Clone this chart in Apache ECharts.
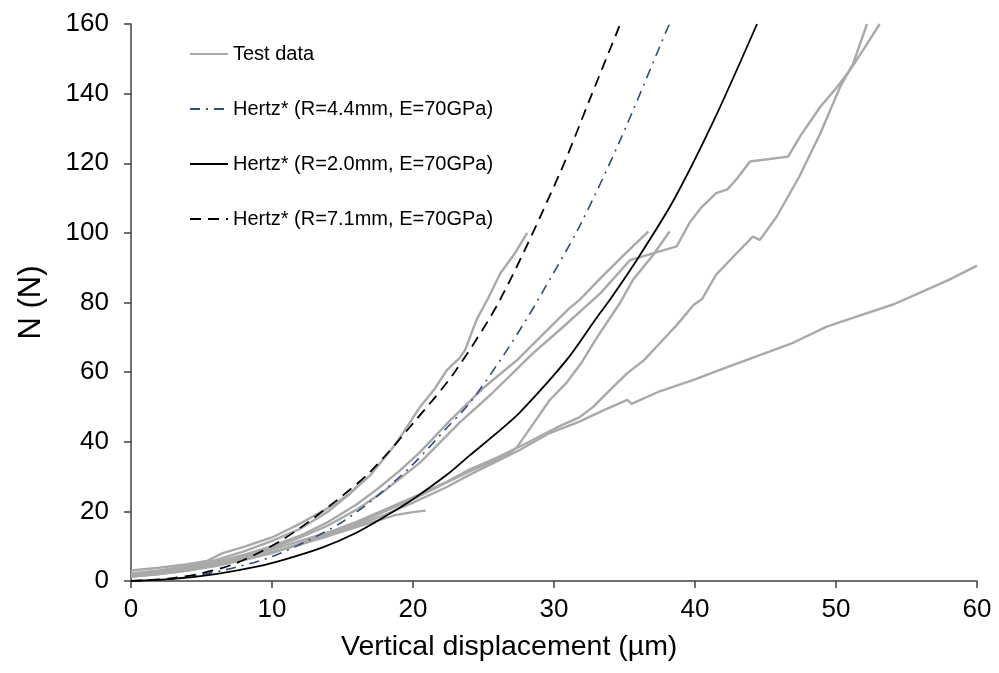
<!DOCTYPE html>
<html>
<head>
<meta charset="utf-8">
<script src="https://cdn.jsdelivr.net/npm/echarts@6/dist/echarts.min.js"></script>
<style>
  html, body { margin: 0; padding: 0; background: #fff; }
  #chart { width: 999px; height: 673px; }
</style>
</head>
<body>
<div id="chart"></div>
<script>
// test data curves, [displacement µm, N]
var testA = [[0,3],[2,3.8],[4,4.8],[5.4,5.8],[6.5,8],[8,9.8],[10,12.5],[12,16.5],[14,21],[15.5,25],[17,30.5],[18.8,39.5],[20.5,50],[21.5,55],[22.4,60.6],[23.3,64],[23.7,66.4],[24.5,75],[25.3,81],[26.2,88.4],[27.2,94],[28.1,100]];
var testB = [[0,2],[2,2.8],[4,3.8],[6,5.5],[8,7.5],[10,10],[12,13],[14,17],[16,22],[17.5,26.5],[19,31.5],[20.5,37],[22.6,46],[25,55.5],[27.4,63.5],[29,70],[31.1,78.4],[31.8,80.7],[33.3,87],[35,93.8],[36.7,100.4]];
var testP = [[0,1.8],[2,2.6],[4,3.5],[6,5],[8,7],[10,9.5],[12,12.5],[14,16],[16,20.5],[18,26],[20.5,34],[23.3,45.5],[25.5,53.5],[28.5,65.4],[30.4,72.1],[33.3,82.7],[35.4,92.2],[38.7,96.1],[39.6,102.8],[40.4,107.1],[41.5,111.4],[42.3,112.5],[43,115.7],[43.9,120.5],[46.6,121.9],[47.5,128],[48.9,136.3],[50,141.5],[51,146.8],[52,153],[53.1,160]];
var testF = [[0,2.2],[2,3],[4,4.3],[6,6],[8,8.5],[10,11.5],[12,15],[14,20],[15.5,25],[16.7,30]];
var testG = [[0,1.5],[2,2.2],[4,3.2],[6,4.5],[8,6.2],[10,8.2],[12,10.5],[14,13],[16.5,16.1],[18.8,19],[20,19.8],[20.9,20.2]];
var testC = [[0,1.2],[2,2],[4,3],[6,4.5],[8,6.2],[10,8.3],[12,10.5],[14,13],[16,16],[18,19],[20,22.5],[22.4,27],[24,30.5],[26,34.5],[27.5,37.5],[29.7,42.5],[31.8,45.8],[33.5,49],[35.2,52],[35.5,50.9],[37.5,54.5],[39.9,57.8],[42,61],[44.6,64.9],[47,68.5],[49.3,73],[51.5,76],[54.1,79.5],[56.4,83.6],[58,86.5],[60,90.6]];
var testD = [[0,1.6],[2,2.4],[4,3.4],[6,5],[8,6.8],[10,9],[12,11.5],[14,14],[16,17],[18,20.5],[20,24],[22.4,28.5],[24,32],[26,35.5],[28,39.5],[30.4,44.5],[31.8,47],[32.8,50.1],[34,55],[35.2,59.7],[36.4,63.5],[37.5,68.3],[38.7,73.5],[39.9,79.3],[40.5,81],[41.5,88],[42.8,93.5],[44.1,98.9],[44.6,98],[45.8,104.7],[47.4,116.2],[48.9,128.7],[50.3,142],[51.2,148.5],[52.2,160]];
var testE = [[0,1.3],[2,2],[4,3],[6,4.3],[8,6],[10,8],[12,10.8],[14,13.5],[16,16.5],[18,20],[20,23.5],[22,27.5],[24,31.5],[26,35],[26.9,36.7],[27.4,38.6],[28.5,45],[29.7,52],[30.9,57],[32,63],[32.8,68.3],[33.3,71.5],[34.7,80],[35.6,86.5],[37,93.5],[38.2,100.4]];

// Hertz* curves
var hertz44 = [[0,0],[2.5,0.4],[5,1.8],[7.5,4],[10,7],[12.5,11.5],[15,17],[17.5,24.5],[20,33.5],[22.4,44],[24,51],[26.2,63.5],[28.1,75.5],[29,81.7],[31.8,101.8],[34.7,126.7],[38,158.3],[38.2,160]];
var hertz20 = [[0,0],[3,0.6],[6,2],[9,4.2],[11,6.3],[13.5,9.5],[15.8,13.5],[18,18.5],[20,23.5],[22.4,30.5],[24,36],[26.2,43.4],[27.6,48.5],[30.9,63.5],[33,75.5],[34,81],[36,93],[38.5,109.5],[41.3,132],[44.4,160]];
var hertz71 = [[0,0],[2.5,0.6],[5,2.2],[7.5,5.2],[10.6,11.5],[13.9,21],[17,31.5],[20,45.3],[22.9,59.7],[26.2,81],[30.4,117],[32.6,139],[34.7,160]];

var FONT = '"Liberation Sans", Arial, sans-serif';
var GRAY = '#a9a9a9';

function testSeries(data) {
  return {
    name: 'Test data', type: 'line', data: data, symbol: 'none',
    lineStyle: { color: GRAY, width: 2.4 }, itemStyle: { color: GRAY },
    z: 2, silent: true
  };
}

var series = [testA, testB, testP, testF, testG, testC, testD, testE].map(testSeries);
series.push({
  name: 'Hertz* (R=4.4mm, E=70GPa)', type: 'line', data: hertz44, symbol: 'none', smooth: 0.3,
  lineStyle: { color: '#2f4b7c', width: 1.6, type: [10, 6, 2, 6] }, itemStyle: { color: '#2f4b7c' }, z: 3
});
series.push({
  name: 'Hertz* (R=2.0mm, E=70GPa)', type: 'line', data: hertz20, symbol: 'none', smooth: 0.3,
  lineStyle: { color: '#000', width: 1.8 }, itemStyle: { color: '#000' }, z: 3
});
series.push({
  name: 'Hertz* (R=7.1mm, E=70GPa)', type: 'line', data: hertz71, symbol: 'none', smooth: 0.3,
  lineStyle: { color: '#000', width: 1.8, type: [11, 7] }, itemStyle: { color: '#000' }, z: 3
});

var chart = echarts.init(document.getElementById('chart'), null, { renderer: 'canvas' });
chart.setOption({
  animation: false,
  backgroundColor: '#fff',
  grid: { left: 131, right: 22, top: 24, bottom: 92 },
  title: {
    text: 'Vertical displacement (µm)', left: 341, top: 633,
    textStyle: { fontFamily: FONT, fontSize: 28.5, fontWeight: 'normal', color: '#000' },
    padding: 0
  },
  legend: {
    orient: 'vertical', left: 184, top: 39,
    itemWidth: 38, itemHeight: 14, itemGap: 35,
    itemStyle: { opacity: 0 },
    textStyle: { fontFamily: FONT, fontSize: 20, color: '#000' },
    data: ['Test data', 'Hertz* (R=4.4mm, E=70GPa)', 'Hertz* (R=2.0mm, E=70GPa)', 'Hertz* (R=7.1mm, E=70GPa)']
  },
  xAxis: {
    type: 'value', min: 0, max: 60, interval: 10,
    axisLine: { lineStyle: { color: '#404040', width: 1.5 } },
    axisTick: { show: true, inside: false, length: 7, lineStyle: { color: '#404040', width: 1.5 } },
    axisLabel: { fontFamily: FONT, fontSize: 26, color: '#000', margin: 16 },
    splitLine: { show: false }
  },
  yAxis: {
    type: 'value', min: 0, max: 160, interval: 20,
    name: 'N (N)', nameLocation: 'middle', nameGap: 84,
    nameTextStyle: { fontFamily: FONT, fontSize: 31, color: '#000' },
    axisLine: { show: true, lineStyle: { color: '#404040', width: 1.5 } },
    axisTick: { show: true, inside: false, length: 7, lineStyle: { color: '#404040', width: 1.5 } },
    axisLabel: { fontFamily: FONT, fontSize: 26, color: '#000', margin: 22 },
    splitLine: { show: false }
  },
  series: series
});

window.addEventListener('resize', function () {
  chart.resize();
});
</script>
</body>
</html>
